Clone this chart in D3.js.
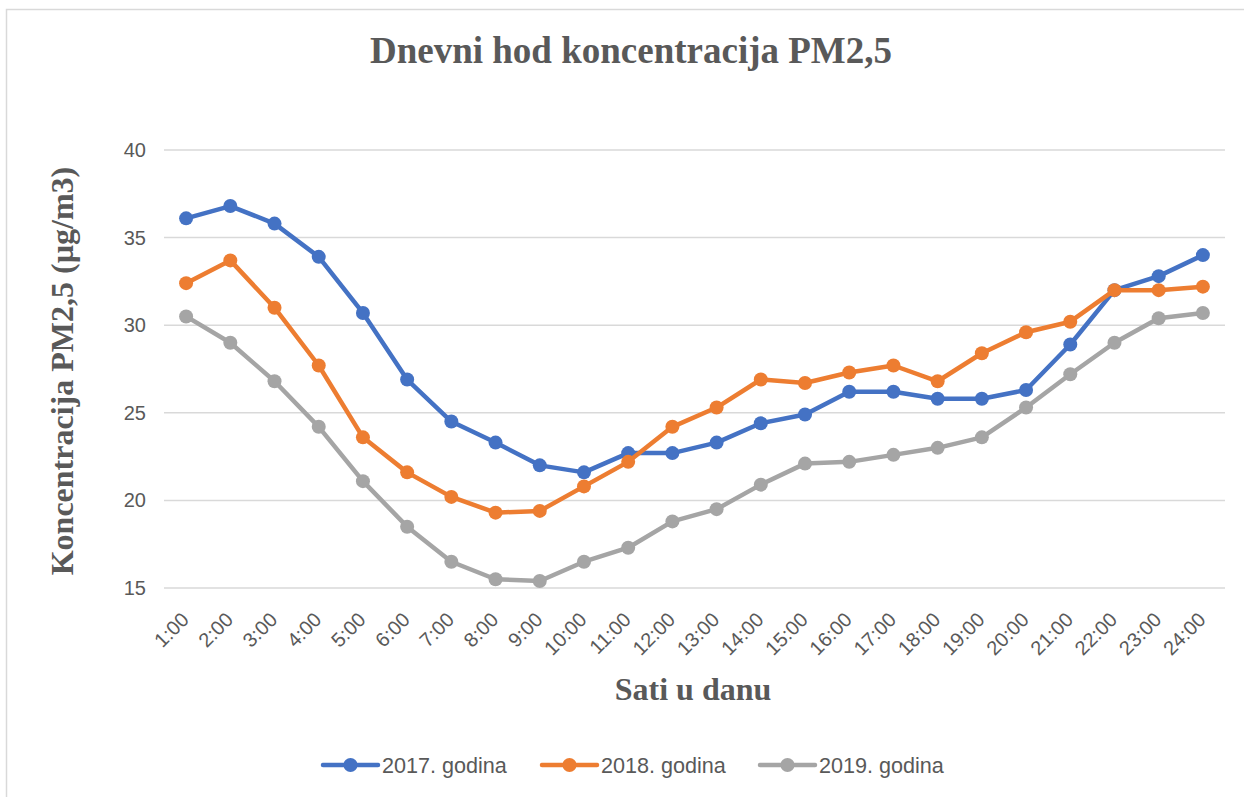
<!DOCTYPE html>
<html>
<head>
<meta charset="utf-8">
<script src="https://cdn.jsdelivr.net/npm/d3@7"></script>
<style>
  html, body { margin: 0; padding: 0; background: #fff; }
  svg { display: block; }
</style>
</head>
<body>
<svg id="chart" width="1244" height="797"></svg>
<script>
const hours = ["1:00","2:00","3:00","4:00","5:00","6:00","7:00","8:00","9:00","10:00","11:00","12:00",
               "13:00","14:00","15:00","16:00","17:00","18:00","19:00","20:00","21:00","22:00","23:00","24:00"];
const series2017 = [36.1,36.8,35.8,33.9,30.7,26.9,24.5,23.3,22.0,21.6,22.7,22.7,23.3,24.4,24.9,26.2,26.2,25.8,25.8,26.3,28.9,32.0,32.8,34.0];
const series2018 = [32.4,33.7,31.0,27.7,23.6,21.6,20.2,19.3,19.4,20.8,22.2,24.2,25.3,26.9,26.7,27.3,27.7,26.8,28.4,29.6,30.2,32.0,32.0,32.2];
const series2019 = [30.5,29.0,26.8,24.2,21.1,18.5,16.5,15.5,15.4,16.5,17.3,18.8,19.5,20.9,22.1,22.2,22.6,23.0,23.6,25.3,27.2,29.0,30.4,30.7];
const seriesNames = ["2017. godina","2018. godina","2019. godina"];
const seriesColors = ["#4472C4","#ED7D31","#A5A5A5"];
const yTicks = [15,20,25,30,35,40];
const titleText = "Dnevni hod koncentracija PM2,5";
const yTitle = "Koncentracija PM2,5 (µg/m3)";
const xTitle = "Sati u danu";

const svg = d3.select("#chart");

// outer border
svg.append("rect").attr("x", 6.5).attr("y", 9.5).attr("width", 1260).attr("height", 820)
  .attr("fill", "none").attr("stroke", "#d9d9d9").attr("stroke-width", 1.5);

const x = d3.scaleBand().domain(hours).range([164, 1225]);
const y = d3.scaleLinear().domain([15, 40]).range([588, 150]);
const cx = d => x(d) + x.bandwidth() / 2;

// gridlines
svg.append("g").selectAll("line").data(yTicks).join("line")
  .attr("x1", 164).attr("x2", 1225)
  .attr("y1", d => y(d)).attr("y2", d => y(d))
  .attr("stroke", "#d9d9d9").attr("stroke-width", 1.5);

// y tick labels
svg.append("g").selectAll("text").data(yTicks).join("text")
  .attr("x", 146).attr("y", d => y(d)).attr("dy", "0.35em")
  .attr("text-anchor", "end")
  .attr("font-family", "Liberation Sans, Arial, sans-serif").attr("font-size", 20)
  .attr("fill", "#595959").text(d => d);

// x tick labels
svg.append("g").selectAll("text").data(hours).join("text")
  .attr("transform", d => `translate(${cx(d) + 4},${621}) rotate(-45)`)
  .attr("text-anchor", "end")
  .attr("font-family", "Liberation Sans, Arial, sans-serif").attr("font-size", 20)
  .attr("fill", "#595959").text(d => d);

// lines
const allSeries = [series2017, series2018, series2019];
const line = d3.line().x((d, i) => cx(hours[i])).y(d => y(d));
allSeries.forEach((s, k) => {
  const g = svg.append("g");
  g.append("path").datum(s).attr("d", line)
    .attr("fill", "none").attr("stroke", seriesColors[k]).attr("stroke-width", 4.5)
    .attr("stroke-linejoin", "round").attr("stroke-linecap", "round");
  g.selectAll("circle").data(s).join("circle")
    .attr("cx", (d, i) => cx(hours[i])).attr("cy", d => y(d))
    .attr("r", 7).attr("fill", seriesColors[k]);
});

// title
svg.append("text").attr("x", 631).attr("y", 63).attr("text-anchor", "middle")
  .attr("font-family", "Liberation Serif, Times New Roman, serif").attr("font-weight", "bold")
  .attr("font-size", 37).attr("fill", "#595959").text(titleText);

// axis titles
svg.append("text").attr("transform", "translate(73,371) rotate(-90)").attr("text-anchor", "middle")
  .attr("font-family", "Liberation Serif, Times New Roman, serif").attr("font-weight", "bold")
  .attr("font-size", 32).attr("fill", "#595959").text(yTitle);

svg.append("text").attr("x", 693).attr("y", 700).attr("text-anchor", "middle")
  .attr("font-family", "Liberation Serif, Times New Roman, serif").attr("font-weight", "bold")
  .attr("font-size", 32).attr("fill", "#595959").text(xTitle);

// legend
const legendX = [323, 542, 760];
const lg = svg.append("g");
seriesNames.forEach((name, k) => {
  const lx = legendX[k], ly = 765;
  lg.append("line").attr("x1", lx).attr("x2", lx + 55).attr("y1", ly).attr("y2", ly)
    .attr("stroke", seriesColors[k]).attr("stroke-width", 4.5).attr("stroke-linecap", "round");
  lg.append("circle").attr("cx", lx + 27.5).attr("cy", ly).attr("r", 7).attr("fill", seriesColors[k]);
  lg.append("text").attr("x", lx + 59).attr("y", ly).attr("dy", "0.35em")
    .attr("font-family", "Liberation Sans, Arial, sans-serif").attr("font-size", 21.6)
    .attr("fill", "#595959").text(name);
});
</script>
</body>
</html>
